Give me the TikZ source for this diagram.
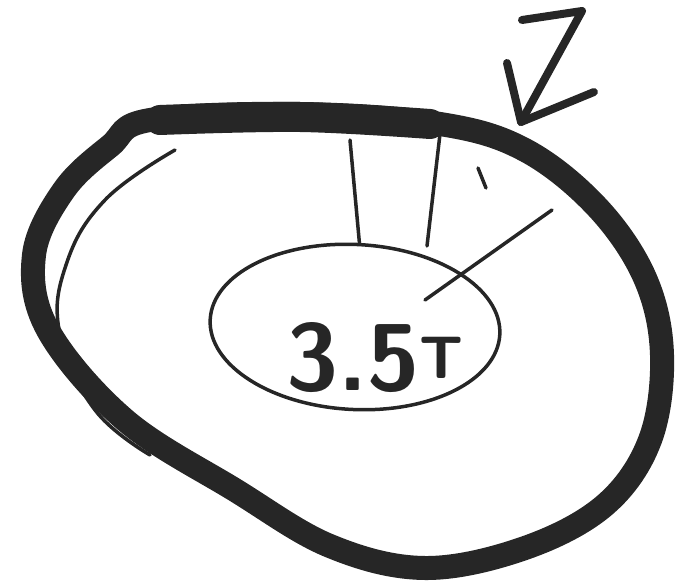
\documentclass[tikz,border=0pt]{standalone}
\usetikzlibrary{shapes.geometric}
\tikzset{
  ring/.style={line width=24pt, line join=round, line cap=round, black!85},
  thin/.style={line width=3.5pt, line cap=round, black!85},
  pen/.style={line width=8pt, line cap=round, line join=round, black!85},
  label/.style={font=\sffamily\bfseries\fontsize{95}{95}\selectfont, black!85, inner sep=0pt}
}
\begin{document}
\begin{tikzpicture}[x=1pt,y=-1pt]
\useasboundingbox (0,0) rectangle (683,583);
% outer thick ring
\draw[ring] plot[smooth cycle, tension=0.6] coordinates {
  (150,120) (300,114) (440,124) (525,150) (597,207) (645,278) (662,355)
  (650,440) (605,505) (525,548) (425,568) (330,546) (235,490) (125,420)
  (48,330) (34,255) (64,190) (110,146)};
% extra thickness on the top edge
\draw[line width=30pt, line cap=round, black!85] plot[smooth, tension=0.6] coordinates {(160,120) (300,117) (430,124)};
% thin inner line on the left
\draw[thin] plot[smooth, tension=0.7] coordinates {(175,150) (105,200) (66,265) (60,335) (95,410) (150,455)};
% inner ellipse
\node[draw, ellipse, rotate=-3, line width=3.5pt, black!85, minimum width=290pt, minimum height=165pt] (inner) at (355,327) {};
\node[label] (val) at (375,358) {3.5\raisebox{12pt}{\fontsize{60}{60}\selectfont T}};
% spokes
\coordinate (s1) at (350,140);
\coordinate (s2) at (440,134);
\coordinate (s3) at (552,210);
\coordinate (s3e) at (425,300);
\coordinate (tk) at (478,168);
\coordinate (tke) at (486,188);
\draw[thin] (s1) -- (inner.north);
\draw[thin] (s2) -- (427,246);
\draw[thin] (s3) -- (s3e);
\draw[thin] (tk) -- (tke);
% arrow with Z
\coordinate (z1) at (522,20);
\coordinate (z2) at (582,11);
\coordinate (tip) at (521,122);
\coordinate (b1) at (507,63);
\coordinate (b2) at (594,92);
\draw[pen] (z1) -- (z2) -- (tip);
\draw[pen] (b1) -- (tip) -- (b2);
\end{tikzpicture}
\end{document}
